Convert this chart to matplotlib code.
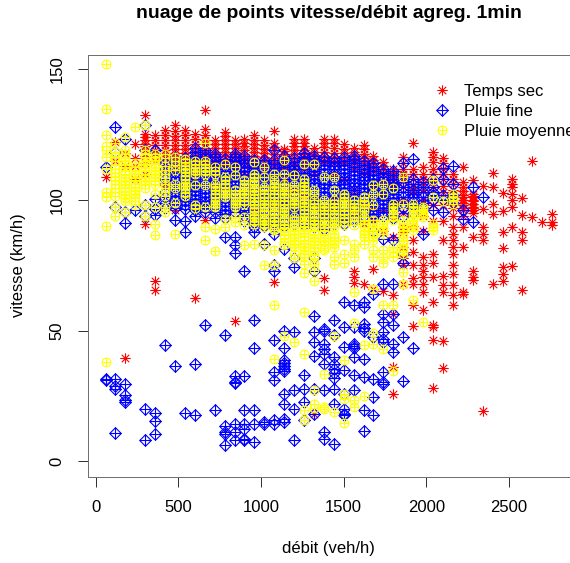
import matplotlib
matplotlib.use("Agg")
import matplotlib.pyplot as plt
import numpy as np
from matplotlib.path import Path

plt.rcParams['font.family'] = ['Liberation Sans', 'DejaVu Sans']

# Temps sec : une colonne de vitesses par debit
sec_debit = [60, 120, 180, 240, 300, 360, 420, 480, 540, 600, 660, 720, 780, 840, 900, 960, 1020, 1080, 1140, 1200,
             1260, 1320, 1380, 1440, 1500, 1560, 1620, 1680, 1740, 1800, 1860, 1920, 1980, 2040, 2100, 2160, 2220,
             2280, 2340, 2400, 2460, 2520, 2580, 2640, 2700, 2760]
sec_vitesse = [
    [108.8],
    [122.2, 115],
    [39.5, 113, 118],
    [121.6, 116, 113, 108],
    [132.4, 125.4, 124, 123, 121.6, 120.6, 119, 117, 114, 110, 91],
    [124.8, 122.9, 121, 119, 118, 115, 69, 65.7],
    [126.7, 125, 123, 121, 119, 117.5, 116, 114, 112, 106],
    [128.6, 126.5, 124.5, 122.9, 121, 119.5, 118, 116.5, 115, 112, 96],
    [126.7, 124.8, 122.9, 121, 119.5, 118, 116.5, 115, 113],
    [125.4, 123.5, 121.6, 120, 118.5, 117, 115.5, 114, 113, 110, 62.6],
    [134.3, 127, 125, 123, 121.5, 120, 118.5, 117, 115.5, 114, 92.3],
    [122.9, 121.5, 120, 118.5, 117, 115.5, 114, 113, 110],
    [126, 124.5, 123, 121.5, 120, 118.5, 117, 115.5, 114, 113],
    [122.9, 121.5, 120, 118.5, 117, 115.5, 114, 113, 53.6],
    [123.5, 122, 120.5, 119, 117.5, 116, 114.5, 113, 110],
    [124.8, 123, 121.6, 120, 118.5, 117, 115.5, 114, 113, 96],
    [122.9, 121, 119.5, 118, 116.5, 115, 114, 111],
    [126.4, 122, 120.3, 119, 117.5, 116, 114.5, 113, 110, 98, 68.6],
    [119.7, 118.7, 117.5, 116, 115, 113.5, 112, 108, 100],
    [123.5, 122, 120.5, 119, 117.5, 116, 114.5, 113, 110, 104],
    [123.5, 122, 120.5, 119, 117.8, 116, 115, 113.5, 112, 102],
    [120, 118.4, 117, 116, 114.5, 113, 110, 100, 18],
    [123.5, 122, 120.3, 118.5, 117, 115.5, 114, 96, 70.3, 65.4],
    [123.5, 122, 120, 118, 116.5, 115, 114, 110, 100],
    [121.6, 119.7, 118, 116.5, 115, 114, 108, 93],
    [120, 118.5, 117, 115.5, 114, 112, 104, 95, 72.8, 70.5, 68.2],
    [121, 119.5, 117.8, 116, 114, 112, 110, 98, 91, 67.7],
    [117, 115.5, 114, 112.5, 111, 105, 97, 92, 73.7, 66],
    [114.6, 113, 112, 110, 107, 102, 96, 88, 65.2],
    [112, 110.5, 109, 107, 105, 99, 93, 86, 63.5, 56.5, 36, 25.9],
    [116.5, 114, 112, 110, 107.5, 105, 100, 95, 89.7, 87.8, 82, 78, 75, 68],
    [121.8, 112, 110, 108, 105, 103, 97, 90, 84.6, 80, 75, 70, 68, 59.7, 51.8],
    [112.7, 110, 108, 106, 104, 100, 94, 88, 78.2, 75, 73, 70.5, 68, 64.8, 57.8],
    [118.4, 116.5, 114.6, 112, 110, 107.5, 105, 98, 92, 79.5, 76, 70.5, 61, 52, 51.4, 46.3, 28.2],
    [116.2, 114, 112, 110, 108, 105.5, 103, 98, 92, 84.6, 71, 67.3, 64.8, 46, 35.8],
    [110, 108, 106, 104, 102.5, 101, 99, 97, 94, 89.7, 87, 84.6, 82, 79.5, 75, 71.8, 67.3, 63.5, 59.7],
    [112.7, 107, 105, 103.5, 102, 101, 100, 99, 98, 97, 96, 94, 89.7, 82, 64.8, 64],
    [107.5, 102.5, 101.5, 101, 100, 99.5, 98.5, 97.5, 97, 96, 95, 85.9, 73, 70.5, 69.3],
    [105.3, 96.7, 89.7, 87.1, 84.6, 19.2],
    [110.5, 105, 98.6, 94.8, 68],
    [102.7, 95.7, 87.8, 81.8, 74.3, 71.8, 69],
    [108.2, 106.3, 105, 102.5, 100, 97.4, 89.7, 74.6],
    [100.8, 94.4, 87.8, 84.6, 65.4],
    [114.8, 93.5],
    [91.6],
    [94.8, 91.6, 90.3],
]

# Pluie fine
fine_debit = [60, 120, 180, 240, 300, 360, 420, 480, 540, 600, 660, 720, 780, 840, 900, 960, 1020, 1080, 1140, 1200,
              1260, 1320, 1380, 1440, 1500, 1560, 1620, 1680, 1740, 1800, 1860, 1920, 1980, 2040, 2100, 2160, 2220,
              2280, 2340]
fine_vitesse = [
    [112.7, 31.6, 31],
    [128, 118.4, 97.3, 31.6, 29, 27.8, 10.8],
    [123.5, 95.4, 91.2, 29.5, 25.2, 23.3, 22.7],
    [96],
    [128.6, 119, 98, 94, 20.1, 8.3],
    [119.3, 100.5, 96.7, 94.2, 18.5, 15.4, 10.6],
    [116, 114, 112, 110, 108, 106, 103, 101, 99, 97, 44.4],
    [116.5, 115, 113.5, 112, 110.5, 109, 107.5, 106, 104.5, 103, 101.5, 100, 98.5, 97, 92.5, 36.3],
    [116, 114.5, 113, 111.5, 110, 108.5, 107, 105.5, 104, 102.5, 101, 99.5, 98, 96.5, 92, 87.8, 18.5],
    [120, 118.5, 117, 115.5, 114, 112.5, 111, 109.5, 108, 106.5, 105, 103.5, 102, 100.5, 99, 97.5, 96, 94, 37.4, 17.6],
    [119, 117.8, 116.3, 114.8, 113.3, 111.8, 110.3, 108.8, 107.3, 105.8, 104.3, 102.8, 101.3, 99.8, 98.3, 96.8, 95.3, 52],
    [117.8, 116.5, 115, 113.5, 112, 110.5, 109, 107.5, 106, 104.5, 103, 101.5, 100, 98.5, 97, 95.5, 93, 19.5],
    [115.8, 114.3, 112.8, 111.3, 109.8, 108.3, 106.8, 105.3, 103.8, 102.3, 100.8, 99.3, 97.8, 96.3, 94.8, 93, 85.9,
     48.2, 13.5, 11.2, 10.6, 6.1],
    [117.8, 116.3, 114.8, 113.3, 111.8, 110.3, 108.8, 107.3, 105.8, 104.3, 102.8, 101.3, 99.8, 98.3, 96.8, 95.3,
     85.9, 82.7, 79.7, 32.5, 30.3, 30, 14.4, 11.2, 8.3],
    [117, 115.5, 114, 112.5, 111, 109.5, 108, 106.5, 105, 103.5, 102, 100.5, 99, 97.5, 96, 94, 92, 73, 32.5, 19.8,
     14.4, 12.5, 8.7, 8],
    [115.2, 113.7, 112.2, 110.7, 109.2, 107.7, 106.2, 104.7, 103.2, 101.7, 100.2, 98.7, 97.2, 95.7, 94.2, 92.7, 91.2,
     89.7, 87.8, 54.2, 43.5, 19.5, 14.2, 7.4],
    [115.5, 114, 112.5, 111, 109.5, 108, 106.5, 105, 103.5, 102, 100.5, 99, 97.5, 96, 94.5, 93, 91.5, 90, 83.3, 15, 14.2],
    [119, 115.2, 113.7, 112.2, 110.7, 109.2, 107.7, 106.2, 104.7, 103.2, 101.7, 100.2, 98.7, 97.2, 95.7, 94.2, 92.7,
     91.2, 89.7, 87, 75, 73, 46.5, 34.2, 31, 15.7, 14.4],
    [117, 115.5, 114, 112.5, 111, 109.5, 108, 106.5, 105, 103.5, 102, 100.5, 99, 97.5, 96, 94.5, 93, 91.5, 90, 81.4,
     50, 43.5, 38.9, 37.5, 36.5, 35.5, 34.5, 25.9, 21.8, 16.3, 15],
    [116, 114.7, 113.2, 111.7, 110.2, 108.7, 107.2, 105.7, 104.2, 102.7, 101.2, 99.7, 98.2, 96.7, 95.2, 93.7, 92.2,
     90.7, 78, 74.3, 49.5, 27.2, 20.1, 8],
    [118, 116.5, 115, 113.5, 112, 110.5, 109, 107.5, 106, 104.5, 103, 101.5, 100, 98.5, 97, 95.5, 94, 92.5, 90.5,
     32.9, 27.8, 22.7, 15.7],
    [117, 115.7, 114.2, 112.7, 111.2, 109.7, 108.2, 106.7, 105.2, 103.7, 102.2, 100.7, 99.2, 97.7, 96.2, 94.7, 93.2,
     91.7, 89.5, 78, 73, 55.5, 49.5, 45.7, 40.5, 27.8, 18.2],
    [116.5, 115, 113.5, 112, 110.5, 109, 107.5, 106, 104.5, 103, 101.5, 100, 98.5, 97, 95.5, 94, 92.5, 91, 89,
     50.8, 50, 45, 43, 41.2, 37.4, 27.2, 11.2, 8.7],
    [116, 114.7, 113.2, 111.7, 110.2, 108.7, 107.2, 105.7, 104.2, 102.7, 101.2, 99.7, 98.2, 96.7, 95.2, 93.7, 92.2,
     91, 54, 48.2, 39.9, 37.4, 35.5, 34, 32, 27.8, 22, 6.5],
    [116.5, 115, 113.5, 112, 110.5, 109, 107.5, 106, 104.5, 103, 101.5, 100, 98.5, 97, 95.5, 94, 92.5, 91, 61, 51.6,
     43.7, 34.8, 25.9, 20, 18.2, 17.6],
    [117, 115.7, 114.2, 112.7, 111.2, 109.7, 108.2, 106.7, 105.2, 103.7, 102.2, 100.7, 99.2, 97.7, 96.2, 94.7, 93.2,
     92, 59.7, 51.4, 45, 44, 43.5, 39.9, 32.9, 27.2],
    [115, 113.5, 112, 110.5, 109, 107.5, 106, 104.5, 103, 101.5, 100, 98.5, 97, 95.5, 94, 92.5, 61, 59, 52.7, 51, 50,
     39.3, 32.3, 19.5, 11.8],
    [114, 112.7, 111.2, 109.7, 108.2, 106.7, 105.2, 103.7, 102.2, 100.7, 99.2, 97.7, 96.2, 94.7, 93.2, 88, 64, 47.6,
     31.6, 24.6, 17.6],
    [112, 110.5, 109, 107.5, 106, 104.5, 103, 101.5, 100, 98.5, 97, 95.5, 94, 85, 68, 56.5, 53.3, 49.5, 47, 45.7,
     34.2, 30.3, 29.7],
    [111, 109.7, 108.2, 106.7, 105.2, 103.7, 102.2, 100.7, 99.2, 97.7, 96.2, 93, 84.6, 68, 56.5, 52, 45, 41.8],
    [114, 109, 107, 105, 103, 101, 99, 97, 94, 79.5, 76, 47.6, 30.7],
    [115.8, 108, 106, 104, 102.5, 101, 99.5, 98, 95, 43.4],
    [107, 105, 103, 101, 99, 97, 86.9],
    [108, 105, 103, 102, 100, 96],
    [112.4, 108, 102, 100, 95.4],
    [112.9, 106, 102, 99],
    [96, 92.9],
    [105, 91.6],
    [101],
]

# Pluie moyenne
moy_debit = [60, 120, 180, 240, 300, 360, 420, 480, 540, 600, 660, 720, 780, 840, 900, 960, 1020, 1080, 1140, 1200,
             1260, 1320, 1380, 1440, 1500, 1560, 1620, 1680, 1740, 1800, 1860, 1920, 1980, 2040, 2100, 2160]
moy_vitesse = [
    [152, 134.8, 124.8, 120.6, 119, 116.5, 112, 103, 101, 90, 37.9],
    [122, 118.4, 116.5, 115, 113.5, 112, 110.5, 109, 107.5, 106, 104.5, 103, 101.5, 97.3, 94],
    [124, 119, 117.7, 116.4, 115.1, 113.8, 112.5, 111.2, 109.9, 108.6, 107.3, 106, 104.7, 103.4, 102.1, 100.8, 99.5, 95.4],
    [128, 114, 112.7, 111.4, 110.1, 108.8, 107.5, 106.2, 104.9, 103.6, 102.3, 101, 99.7, 98],
    [128.6, 119, 117.7, 116.4, 115.1, 113.8, 112.5, 111.2, 109.9, 108.6, 107.3, 106, 104.7, 98, 94],
    [117.8, 116.5, 115.2, 113.9, 112.6, 111.3, 110, 108.7, 107.4, 106.3, 102.5, 97.3, 91, 86.5],
    [117.8, 116, 113, 111.5, 110, 108.5, 106, 104.5, 103, 101.5, 97.3, 95.4],
    [116.5, 115, 113.5, 111.4, 106.3, 104.7, 99, 87],
    [115.8, 114.5, 113.2, 111.9, 110.6, 109.3, 108, 106.7, 105.4, 104.1, 102.8, 101.5],
    [115, 113.7, 112.4, 111, 110, 105.6, 98, 97],
    [122, 115, 113.7, 112.4, 111, 110, 105.6, 97.4, 89.7, 84.6],
    [112.7, 111, 110, 106.3, 105, 103.7, 102.4, 101.1, 99.8, 98.5, 97.3, 89, 80.5],
    [113.9, 108.8, 107.5, 106.2, 104.9, 103.6, 102.3, 101.2, 92.9, 89.7],
    [112.7, 109.5, 103.7, 102.4, 101.1, 99.8, 98.5, 97.3, 93.5, 91.6],
    [107.5, 106.2, 104.9, 103.6, 102.3, 101, 99.7, 98.4, 93.5, 90.3, 82.7],
    [114.6, 110, 108.7, 107.4, 106.1, 104.8, 103.5, 102.2, 100.9, 99.6, 98.3, 97, 95.7, 94.4, 93.1, 91.8, 90.9, 83.3],
    [112.7, 108.8, 105, 103.7, 102.4, 101.1, 99.8, 98.5, 97.2, 95.9, 94.6, 93.3, 92, 90.7, 89.7, 82.7, 75],
    [110, 107.5, 106.2, 104.9, 103.7, 102.4, 101.1, 99.8, 98.5, 97.2, 95.9, 94.6, 93.3, 92, 90.7, 89.4, 88.4, 80.8, 75,
     59.7, 39.3],
    [115.2, 110, 106.2, 104.9, 103.6, 102.3, 101, 99.7, 98.4, 97.1, 95.8, 94.5, 93.2, 91.9, 90.6, 89.3, 88, 86.7, 85.4,
     84.1, 82.8, 48],
    [109.4, 105.6, 103.7, 102.4, 101.1, 99.8, 98.5, 97.4, 93.5, 92.2, 90.9, 89.6, 88.3, 87, 85.7, 84.4, 83.1, 82, 79.5,
     78, 45.6],
    [113.9, 108, 106.7, 105.4, 104.1, 102.8, 101.5, 100.2, 98.9, 97.6, 96.3, 95, 93.7, 92.4, 91.1, 89.8, 88.5, 87.2,
     85.9, 84.6, 83.3, 82, 80.7, 79.4, 78.2, 75.6, 72, 57, 41, 19.5, 15.7],
    [113.9, 103.7, 102.4, 99.9, 98.6, 97.3, 96, 94.7, 93.4, 92.1, 90.8, 89.5, 88.2, 86.9, 85.6, 84.3, 83, 81.7, 80.4,
     79.1, 78, 75.6, 73.3, 69.2, 27.4, 22, 20.5],
    [108.8, 99.9, 98.6, 97.3, 96, 94.7, 93.4, 92.1, 90.8, 89.5, 88.2, 86.9, 85.6, 84.3, 83, 81.7, 80.8, 33.5, 20.8, 20],
    [108.8, 104, 99.9, 98.6, 97.3, 96, 94.7, 93.4, 92.1, 90.8, 89.7, 87, 85.7, 84.5, 83.2, 82, 78.2, 75.4, 47.8, 18.9],
    [102.4, 101.1, 99.8, 98.5, 97.2, 95.9, 94.6, 93.3, 92, 90.4, 84.6, 79.5, 76, 38.6, 25.9, 24, 14.7],
    [99.9, 98.6, 97.3, 96, 94.7, 93.4, 92.1, 90.4, 83.3, 81, 78.2, 64.8, 52.9, 23.3, 20.8],
    [101, 99.7, 98.4, 97.1, 95.8, 93.5, 92.2, 90.9, 89.6, 88.3, 87, 85.9, 83.3, 44.4, 24.9],
    [105.6, 102.4, 98, 92.3, 91, 89.7, 88.4, 87, 85.7, 84.6, 80.8, 78.2, 66, 49, 44.8],
    [106.3, 102.4, 92.3, 91, 89.7, 88.4, 87, 80.8, 78.2, 76, 59.7, 43],
    [104.7, 98.6, 97.3, 96, 94.7, 93.4, 92.3, 82, 80, 78.2, 59.7, 34.4],
    [108.8, 98.6, 92.3, 91, 89.7, 88.4, 87, 85.7, 84.4, 83.1, 81.8, 80.5, 79.5, 72.4, 68],
    [98.6, 97.3, 96, 94.7, 93.4, 92.3, 91, 89.7, 88.4, 61.8],
    [97.3, 96.4, 95.5, 94.6, 93.5, 53.3],
    [107.5, 101, 91, 89.7, 88.4],
    [99.6],
    [102.4, 101, 100, 98.6],
]

legend_labels = ["Temps sec", "Pluie fine", "Pluie moyenne"]
x_ticks = [0, 500, 1000, 1500, 2000, 2500]
y_ticks = [0, 50, 100, 150]

# marqueurs R pch=8, 9, 10
star = Path([(-1, 0), (1, 0), (0, -1), (0, 1), (-.71, -.71), (.71, .71), (-.71, .71), (.71, -.71)],
            [Path.MOVETO, Path.LINETO] * 4)
diamond_plus = Path([(-1, 0), (0, 1), (1, 0), (0, -1), (-1, 0), (-1, 0), (1, 0), (0, -1), (0, 1)],
                    [Path.MOVETO, Path.LINETO, Path.LINETO, Path.LINETO, Path.LINETO,
                     Path.MOVETO, Path.LINETO, Path.MOVETO, Path.LINETO])
circle_plus = Path.make_compound_path(
    Path.unit_circle(),
    Path([(-1, 0), (1, 0), (0, -1), (0, 1)], [Path.MOVETO, Path.LINETO] * 2))


def flatten(debit, vitesse):
    xs = np.repeat(debit, [len(v) for v in vitesse])
    ys = np.concatenate(vitesse)
    return xs, ys


fig = plt.figure(figsize=(570 / 72, 563 / 72), dpi=72)
ax = fig.add_axes([87.5 / 570, 1 - 476.5 / 563, (571 - 87.5) / 570, (476.5 - 54.5) / 563])
ax.set_xlim(-49, 2874)
ax.set_ylim(-5.8, 155.7)

series = [
    (sec_debit, sec_vitesse, star, 'red', 10.5),
    (fine_debit, fine_vitesse, diamond_plus, 'blue', 11.5),
    (moy_debit, moy_vitesse, circle_plus, 'yellow', 8.8),
]
handles = []
for debit, vitesse, marker, color, size in series:
    xs, ys = flatten(debit, vitesse)
    h, = ax.plot(xs, ys, ls='none', marker=marker, ms=size, mec=color, mfc='none', mew=1.1)
    handles.append(h)

for sp in ax.spines.values():
    sp.set_color('#707070')
    sp.set_linewidth(1)
ax.plot(x_ticks[:1] + x_ticks[-1:], [0, 0], color='#222222', lw=1, clip_on=False,
        transform=ax.get_xaxis_transform())
ax.plot([0, 0], y_ticks[:1] + y_ticks[-1:], color='#222222', lw=1, clip_on=False,
        transform=ax.get_yaxis_transform())

ax.set_xticks(x_ticks)
ax.set_yticks(y_ticks)
ax.tick_params(length=10, width=1, color='#333333', labelsize=16.6, pad=13)
plt.setp(ax.get_yticklabels(), rotation=90, va='center')

fig.text(328 / 570, 1 - 548 / 563, "débit (veh/h)", ha='center', va='center', fontsize=16.6)
fig.text(19 / 570, 1 - 265 / 563, "vitesse (km/h)", ha='center', va='center', rotation=90, fontsize=16.6)
fig.text(329 / 570, 1 - 14 / 563, "nuage de points vitesse/débit agreg. 1min", ha='center', va='center',
         fontsize=19.4, fontweight='bold')

ax.legend(handles, legend_labels, loc='upper left', bbox_to_anchor=(436 / 570, 1 - 84 / 563),
          bbox_transform=fig.transFigure, frameon=False, fontsize=16.6, handlelength=0.7,
          handletextpad=1.0, labelspacing=0.29, borderpad=0, borderaxespad=0, numpoints=1)

fig.savefig("out.png", dpi=72)
